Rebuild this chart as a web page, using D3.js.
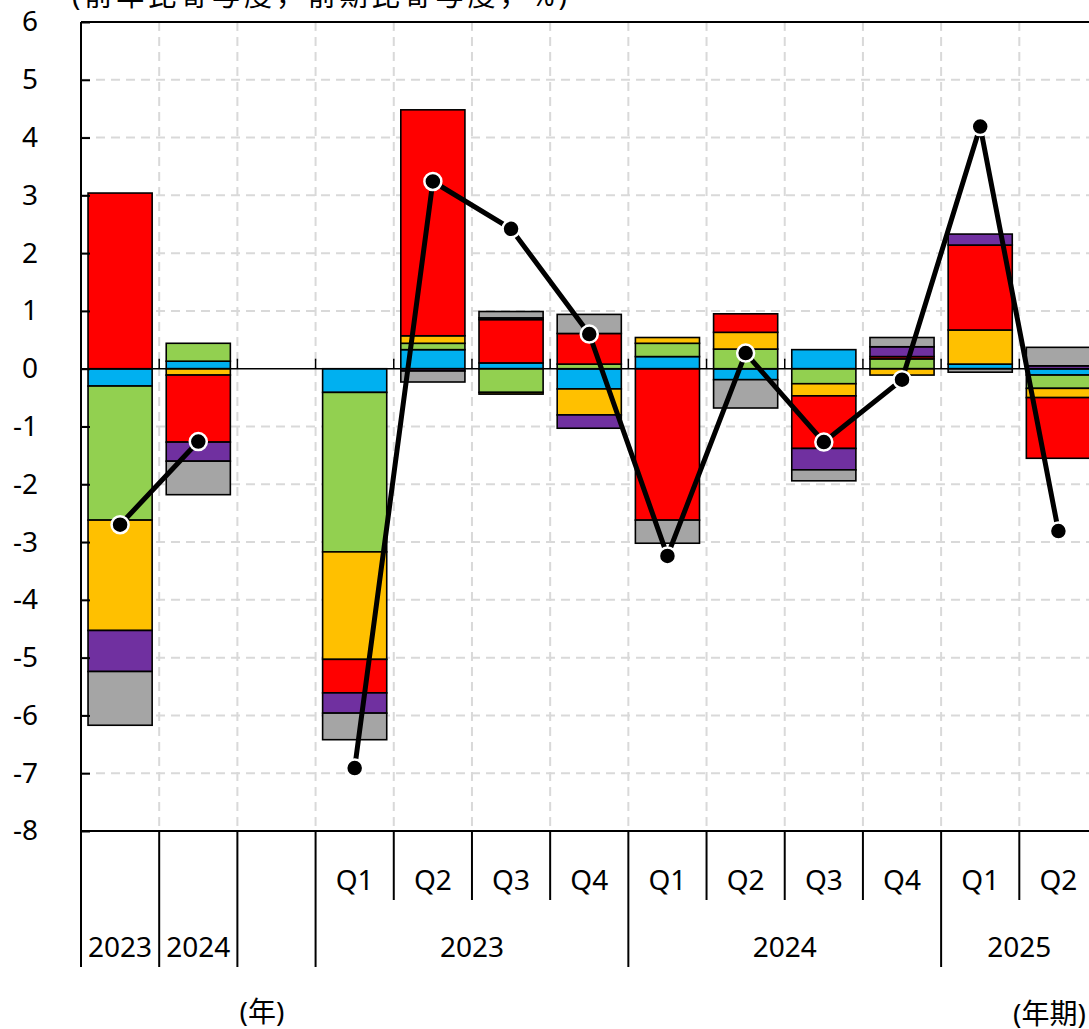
<!DOCTYPE html>
<html>
<head>
<meta charset="utf-8">
<script src="https://cdn.jsdelivr.net/npm/d3@7"></script>
<style>
  html, body { margin: 0; padding: 0; background: #fff; overflow: hidden; }
  svg { display: block; }
  text { font-family: "Noto Sans", "Noto Sans CJK JP", sans-serif; fill: #000; }
</style>
</head>
<body>
<svg id="chart" width="1089" height="1029"></svg>
<script>
// ---- data ----
const categoryIds = ["Y2023", "Y2024", "gap", "2023Q1", "2023Q2", "2023Q3", "2023Q4",
                     "2024Q1", "2024Q2", "2024Q3", "2024Q4", "2025Q1", "2025Q2"];
const periodLabels = ["2023", "2024", "", "Q1", "Q2", "Q3", "Q4", "Q1", "Q2", "Q3", "Q4", "Q1", "Q2"];
const quarterYears = [
  { label: "2023", first: "2023Q1", last: "2023Q4" },
  { label: "2024", first: "2024Q1", last: "2024Q4" },
  { label: "2025", first: "2025Q1", last: "2025Q2" }
];
const seriesKeys = ["s1", "s2", "s3", "s4", "s5", "s6"];
const seriesColors = ["#00B0F0", "#92D050", "#FFC000", "#FF0000", "#7030A0", "#A5A5A5"];
const s1 = [-0.30, 0.13, 0, -0.41, 0.33, 0.10, -0.35, 0.21, -0.19, 0.33, 0.00, 0.08, -0.11];
const s2 = [-2.32, 0.31, 0, -2.76, 0.11, -0.41, 0.08, 0.23, 0.34, -0.26, 0.17, 0.00, -0.23];
const s3 = [-1.91, -0.11, 0, -1.86, 0.13, -0.03, -0.45, 0.10, 0.29, -0.21, -0.11, 0.59, -0.16];
const s4 = [3.04, -1.16, 0, -0.58, 3.91, 0.75, 0.53, -2.62, 0.32, -0.91, 0.04, 1.47, -1.05];
const s5 = [-0.71, -0.33, 0, -0.35, -0.04, 0.03, -0.23, 0.00, 0.00, -0.37, 0.17, 0.19, 0.05];
const s6 = [-0.93, -0.58, 0, -0.46, -0.19, 0.11, 0.33, -0.40, -0.49, -0.19, 0.16, -0.06, 0.32];
const totalLine = [-2.70, -1.26, null, -6.91, 3.24, 2.42, 0.60, -3.24, 0.27, -1.27, -0.19, 4.19, -2.81];
const yTicks = [-8, -7, -6, -5, -4, -3, -2, -1, 0, 1, 2, 3, 4, 5, 6];
const titleText = "(前年比寄与度，前期比寄与度，%)";
const unitYear = "(年)";
const unitPeriod = "(年期)";

// ---- layout ----
const plotLeft = 81, plotRight = 1097.5, plotTop = 22, plotBottom = 831;
const svg = d3.select("#chart");

const x = d3.scaleBand().domain(categoryIds).range([plotLeft, plotRight]);
const xBar = d3.scaleBand().domain(categoryIds).range([plotLeft, plotRight]).paddingInner(0.18).paddingOuter(0.09);
const y = d3.scaleLinear().domain([-8, 6]).range([plotBottom, plotTop]);

const seriesData = [s1, s2, s3, s4, s5, s6];
const rows = categoryIds.map((id, i) => {
  const r = { id };
  seriesKeys.forEach((k, j) => r[k] = seriesData[j][i]);
  return r;
});
const stacked = d3.stack().keys(seriesKeys).offset(d3.stackOffsetDiverging)(rows);

// gridlines
const grid = svg.append("g");
grid.selectAll("line.h").data(yTicks.filter(t => t !== 0 && t !== 6 && t !== -8)).join("line")
  .attr("x1", plotLeft).attr("x2", plotRight)
  .attr("y1", d => y(d)).attr("y2", d => y(d))
  .attr("stroke", "#d9d9d9").attr("stroke-width", 2).attr("stroke-dasharray", "9,6");
grid.selectAll("line.v").data(categoryIds.slice(1)).join("line")
  .attr("x1", d => x(d)).attr("x2", d => x(d))
  .attr("y1", plotTop).attr("y2", plotBottom)
  .attr("stroke", "#d9d9d9").attr("stroke-width", 2).attr("stroke-dasharray", "9,6");

// bars
const barG = svg.append("g");
stacked.forEach((layer, j) => {
  barG.append("g").selectAll("rect")
    .data(layer.filter(d => d[1] - d[0] !== 0))
    .join("rect")
    .attr("x", d => xBar(d.data.id))
    .attr("width", xBar.bandwidth())
    .attr("y", d => y(Math.max(d[0], d[1])))
    .attr("height", d => Math.abs(y(d[0]) - y(d[1])))
    .attr("fill", seriesColors[j])
    .attr("stroke", "#000").attr("stroke-width", 1.6);
});

// zero line with upward ticks at band boundaries
svg.append("line").attr("x1", plotLeft).attr("x2", plotRight).attr("y1", y(0)).attr("y2", y(0))
  .attr("stroke", "#000").attr("stroke-width", 1.5);
svg.append("g").selectAll("line").data(categoryIds.slice(1)).join("line")
  .attr("x1", d => x(d)).attr("x2", d => x(d))
  .attr("y1", y(0) - 10).attr("y2", y(0))
  .attr("stroke", "#000").attr("stroke-width", 1.5);

// frame: top and bottom lines
svg.append("line").attr("x1", plotLeft).attr("x2", plotRight).attr("y1", plotTop).attr("y2", plotTop)
  .attr("stroke", "#000").attr("stroke-width", 2);
svg.append("line").attr("x1", plotLeft).attr("x2", plotRight).attr("y1", plotBottom).attr("y2", plotBottom)
  .attr("stroke", "#000").attr("stroke-width", 2);

// y axis
const yAxis = d3.axisLeft(y).tickValues(yTicks).tickSizeInner(-9).tickSizeOuter(0).tickPadding(43)
  .tickFormat(d => String(d));
const yg = svg.append("g").attr("transform", `translate(${plotLeft},0)`).call(yAxis);
yg.select(".domain").remove();
yg.selectAll(".tick line").attr("stroke", "#000").attr("stroke-width", 2);
yg.selectAll(".tick text").attr("font-size", 28)
  .style("font-family", '"Noto Sans", "Noto Sans CJK JP", sans-serif');
svg.append("line").attr("x1", plotLeft).attr("x2", plotLeft).attr("y1", plotTop).attr("y2", 967)
  .attr("stroke", "#000").attr("stroke-width", 2);

// category axis separators
const yearStarts = new Set(["Y2024", "gap", "2023Q1", "2024Q1", "2025Q1"]);
const seps = categoryIds.slice(1).map(id => ({ id, full: yearStarts.has(id) }));
svg.append("g").selectAll("line").data(seps).join("line")
  .attr("x1", d => x(d.id)).attr("x2", d => x(d.id))
  .attr("y1", plotBottom).attr("y2", d => d.full ? 967 : 900)
  .attr("stroke", "#000").attr("stroke-width", 2);
svg.append("line").attr("x1", plotRight).attr("x2", plotRight).attr("y1", plotBottom).attr("y2", 967)
  .attr("stroke", "#000").attr("stroke-width", 2);

// period labels
const quarterIdx = categoryIds.map((id, i) => i).filter(i => i >= 3);
svg.append("g").selectAll("text").data(quarterIdx).join("text")
  .attr("x", i => x(categoryIds[i]) + x.bandwidth() / 2)
  .attr("y", 890)
  .attr("text-anchor", "middle").attr("font-size", 28)
  .text(i => periodLabels[i]);
svg.append("g").selectAll("text").data([0, 1]).join("text")
  .attr("x", i => x(categoryIds[i]) + x.bandwidth() / 2)
  .attr("y", 957)
  .attr("text-anchor", "middle").attr("font-size", 28)
  .text(i => periodLabels[i]);
svg.append("g").selectAll("text").data(quarterYears).join("text")
  .attr("x", d => (x(d.first) + x(d.last) + x.bandwidth()) / 2)
  .attr("y", 957)
  .attr("text-anchor", "middle").attr("font-size", 28)
  .text(d => d.label);

// units and title
svg.append("text").attr("x", 262).attr("y", 1022).attr("text-anchor", "middle")
  .attr("font-size", 28).text(unitYear);
svg.append("text").attr("x", 1013).attr("y", 1024).attr("text-anchor", "start")
  .attr("font-size", 28).text(unitPeriod);
svg.append("text").attr("x", 72).attr("y", 6).attr("text-anchor", "start")
  .attr("font-size", 28).attr("textLength", 495).attr("lengthAdjust", "spacing")
  .text(titleText);

// total line
const pts = categoryIds.map((id, i) => ({ id, v: totalLine[i] }));
const line = d3.line().defined(d => d.v !== null)
  .x(d => x(d.id) + x.bandwidth() / 2).y(d => y(d.v));
svg.append("path").datum(pts).attr("d", line)
  .attr("fill", "none").attr("stroke", "#000").attr("stroke-width", 5).attr("stroke-linejoin", "round");
svg.append("g").selectAll("circle").data(pts.filter(d => d.v !== null)).join("circle")
  .attr("cx", d => x(d.id) + x.bandwidth() / 2).attr("cy", d => y(d.v))
  .attr("r", 8.5).attr("fill", "#000").attr("stroke", "#fff").attr("stroke-width", 2.5);
</script>
</body>
</html>
